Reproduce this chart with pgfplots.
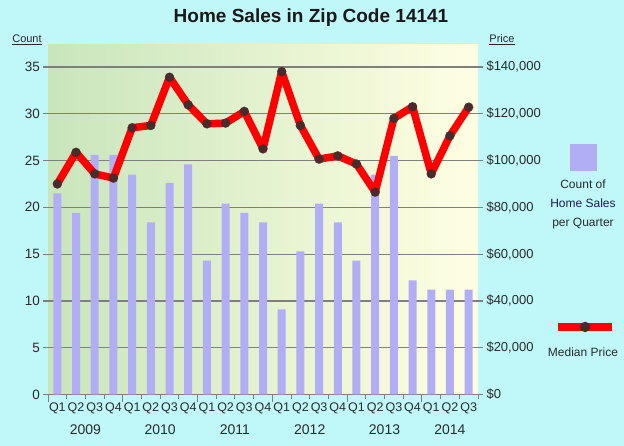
\documentclass[border=0pt]{standalone}
\usepackage{pgfplots}
\pgfplotsset{compat=1.18}
\usepackage{pgfplotstable}
\usepackage{fontspec}
\setmainfont{Liberation Sans}
\definecolor{bgc}{HTML}{C0F7F9}
\definecolor{plotl}{HTML}{C9E5BC}
\definecolor{plotr}{HTML}{FFFFE2}
\definecolor{barc}{HTML}{B2AEF6}
\definecolor{gridc}{HTML}{7F7F7F}
\definecolor{dotc}{HTML}{4A2B2B}
\definecolor{txt}{HTML}{2A2A2A}
\definecolor{navy}{HTML}{1C1C55}

\pgfplotstableread{
q cnt price
0 21.5 90000
1 19.4 103500
2 25.6 94300
3 25.6 92500
4 23.5 114000
5 18.4 115000
6 22.6 135600
7 24.6 123800
8 14.3 115700
9 20.4 116000
10 19.4 121000
11 18.4 105000
12 9.1 138000
13 15.3 115000
14 20.4 100600
15 18.4 102000
16 14.3 98500
17 23.5 86500
18 25.5 118000
19 12.2 123000
20 11.2 94300
21 11.2 110600
22 11.2 122800
}\datatable

\begin{document}
\begin{tikzpicture}[x=1pt,y=1pt]
\path[use as bounding box, fill=bgc] (0,0) rectangle (624,446);
\begin{axis}[
  at={(48pt,51.5pt)}, anchor=south west,
  scale only axis, width=430pt, height=350pt,
  xmin=-0.5, xmax=22.5, ymin=0, ymax=37.4,
  clip=false,
  /pgf/number format/assume math mode=true,
  axis background/.style={shade, left color=plotl, right color=plotr},
  axis x line*=bottom, axis y line*=left,
  x axis line style={-, draw=gridc, line width=1.2pt},
  y axis line style={draw=none},
  ytick={0,5,...,35},
  ymajorgrids, major grid style={draw=gridc, line width=1.2pt},
  tick align=outside, major tick length=4.5pt,
  ytick style={draw=gridc, line width=1.2pt},
  xtick style={draw=gridc, line width=1pt},
  yticklabel style={font=\fontsize{13.5}{13.5}\selectfont, text=txt},
  xtick={-0.5,0.5,...,22.5},
  x tick label as interval,
  xticklabels={Q1,Q2,Q3,Q4,Q1,Q2,Q3,Q4,Q1,Q2,Q3,Q4,Q1,Q2,Q3,Q4,Q1,Q2,Q3,Q4,Q1,Q2,Q3},
  xticklabel style={font=\fontsize{12.5}{12.5}\selectfont, text=txt, inner xsep=0pt},
  extra x ticks={-0.5,3.5,7.5,11.5,15.5,19.5},
  extra x tick labels={},
  extra x tick style={major tick length=8pt},
  legend style={draw=none, fill=none, at={(1.214,0.677)}, anchor=west, inner sep=0pt, outer sep=0pt, nodes={inner sep=0pt}},
]
\addplot[ybar, bar width=8pt, fill=barc, draw=none,
  legend image code/.code={\fill[barc, draw=none] (0pt,-13.5pt) rectangle (27pt,13.5pt);}]
  table[x=q, y=cnt]{\datatable};
\addlegendentry{}
\node[font=\fontsize{14}{14}\selectfont, text=txt] at (axis cs:1.5,0) [yshift=-35pt] {2009};
\node[font=\fontsize{14}{14}\selectfont, text=txt] at (axis cs:5.5,0) [yshift=-35pt] {2010};
\node[font=\fontsize{14}{14}\selectfont, text=txt] at (axis cs:9.5,0) [yshift=-35pt] {2011};
\node[font=\fontsize{14}{14}\selectfont, text=txt] at (axis cs:13.5,0) [yshift=-35pt] {2012};
\node[font=\fontsize{14}{14}\selectfont, text=txt] at (axis cs:17.5,0) [yshift=-35pt] {2013};
\node[font=\fontsize{14}{14}\selectfont, text=txt] at (axis cs:21,0) [yshift=-35pt] {2014};
\end{axis}
\begin{axis}[
  at={(48pt,51.5pt)}, anchor=south west,
  scale only axis, width=430pt, height=350pt,
  xmin=-0.5, xmax=22.5, ymin=0, ymax=149600,
  axis x line=none, axis y line*=right,
  y axis line style={draw=none},
  scaled y ticks=false,
  ytick={0,20000,40000,60000,80000,100000,120000,140000},
  yticklabels={\$0,{\$20,000},{\$40,000},{\$60,000},{\$80,000},{\$100,000},{\$120,000},{\$140,000}},
  tick align=outside, major tick length=5pt,
  ytick style={draw=gridc, line width=1.2pt},
  yticklabel style={font=\fontsize{13}{13}\selectfont, text=txt},
  legend style={draw=none, fill=none, at={(1.177,0.193)}, anchor=west, inner sep=0pt, outer sep=0pt, nodes={inner sep=0pt}},
]
\addplot[red, line width=7.5pt, line join=round, line cap=round,
  mark=*, mark size=4.6pt, mark options={fill=dotc, draw=dotc, line width=0.1pt},
  legend image code/.code={\draw[red, line width=8pt, line cap=butt] (0pt,0pt) -- (54pt,0pt); \fill[dotc, draw=none] (27pt,0pt) circle[radius=5.2pt];}]
  table[x=q, y=price]{\datatable};
\addlegendentry{}
\end{axis}
\node[font=\bfseries\fontsize{19}{21}\selectfont, text=black!90] at (311,428) {Home Sales in Zip Code 14141};
\node[font=\fontsize{11}{11}\selectfont, text=txt] at (27,406) {\underline{Count}};
\node[font=\fontsize{11}{11}\selectfont, text=txt] at (502,406) {\underline{Price}};
\node[font=\fontsize{12}{19}\selectfont, text=txt, align=center] at (583,242) {Count of\\\textcolor{navy}{Home Sales}\\per Quarter};
\node[font=\fontsize{12}{12}\selectfont, text=txt] at (583,94) {Median Price};
\end{tikzpicture}
\end{document}
